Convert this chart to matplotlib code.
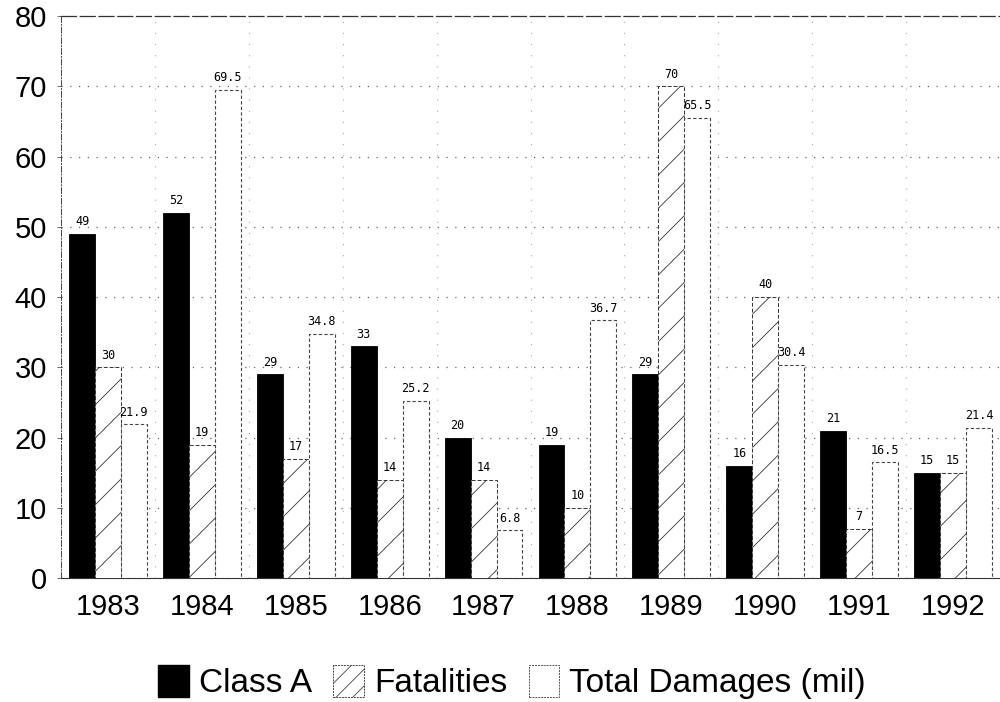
import matplotlib
matplotlib.use("Agg")
import matplotlib.pyplot as plt
import numpy as np
from matplotlib.patches import Patch

years = ["1983", "1984", "1985", "1986", "1987", "1988", "1989", "1990", "1991", "1992"]
class_a = [49, 52, 29, 33, 20, 19, 29, 16, 21, 15]
fatalities = [30, 19, 17, 14, 14, 10, 70, 40, 7, 15]
damages = [21.9, 69.5, 34.8, 25.2, 6.8, 36.7, 65.5, 30.4, 16.5, 21.4]
damage_labels = ["21.9", "69.5", "34.8", "25.2", "6.8", "36.7", "65.5", "30.4", "16.5", "21.4"]
yticks = [0, 10, 20, 30, 40, 50, 60, 70, 80]

plt.rcParams['font.family'] = ['Liberation Sans', 'DejaVu Sans']
plt.rcParams['hatch.linewidth'] = 0.6

fig = plt.figure(figsize=(10, 7.02), dpi=100)
ax = fig.add_axes([0.061, 0.1766, 0.939, 0.8004])

x = np.arange(len(years))
w = 0.276

b1 = ax.bar(x - w, class_a, w, color='black', edgecolor='black', linewidth=0.6, zorder=3)
b2 = ax.bar(x, fatalities, w, color='white', edgecolor='#333333', hatch='/', linewidth=0.7,
            linestyle=(0, (4, 2)), zorder=3)
b3 = ax.bar(x + w, damages, w, color='white', edgecolor='#444444', linewidth=0.8,
            linestyle=(0, (3, 2)), zorder=3)

lab_kw = dict(ha='center', va='bottom', fontsize=8.5, family=['DejaVu Sans Mono'], zorder=4)
for xi, v in zip(x, class_a):
    ax.text(xi - w, v + 0.8, str(v), **lab_kw)
for xi, v in zip(x, fatalities):
    ax.text(xi, v + 0.8, str(v), **lab_kw)
for xi, v, s in zip(x, damages, damage_labels):
    ax.text(xi + w, v + 0.8, s, **lab_kw)

ax.set_xlim(-0.5, 9.5)
ax.set_ylim(0, 80)
ax.set_yticks(yticks)
ax.set_yticklabels([str(t) for t in yticks], fontsize=21)
ax.set_xticks(x)
ax.set_xticklabels(years, fontsize=21)
ax.tick_params(axis='x', length=0, pad=11)
ax.tick_params(axis='y', length=3, width=0.6, pad=7, color='#555555')

for t in yticks[1:-1]:
    ax.axhline(t, color='#666666', linestyle=(0, (1, 6)), linewidth=0.9, zorder=1)
for b in np.arange(0.5, 9.5, 1.0):
    ax.axvline(b, color='#aaaaaa', linestyle=(0, (1, 9)), linewidth=0.8, zorder=1)

ax.spines['right'].set_visible(False)
ax.spines['left'].set_linestyle((0, (6, 2, 1, 2)))
ax.spines['left'].set_linewidth(0.7)
ax.spines['left'].set_color('#444444')
ax.spines['top'].set_linestyle((0, (12, 3)))
ax.spines['top'].set_linewidth(0.9)
ax.spines['top'].set_color('#333333')
ax.spines['bottom'].set_linewidth(0.8)
ax.spines['bottom'].set_color('#333333')

handles = [Patch(facecolor='black', edgecolor='black'),
           Patch(facecolor='white', edgecolor='#444444', hatch='//', linestyle=(0, (2, 1)), linewidth=0.7),
           Patch(facecolor='white', edgecolor='#555555', linestyle=(0, (2, 1)), linewidth=0.7)]
fig.legend(handles, ["Class A", "Fatalities", "Total Damages (mil)"], loc='center',
           bbox_to_anchor=(0.512, 0.028), ncol=3, frameon=False, fontsize=24,
           handlelength=0.91, handleheight=1.08, handletextpad=0.3, columnspacing=0.65,
           borderpad=0)

fig.savefig("out.png", dpi=100)
